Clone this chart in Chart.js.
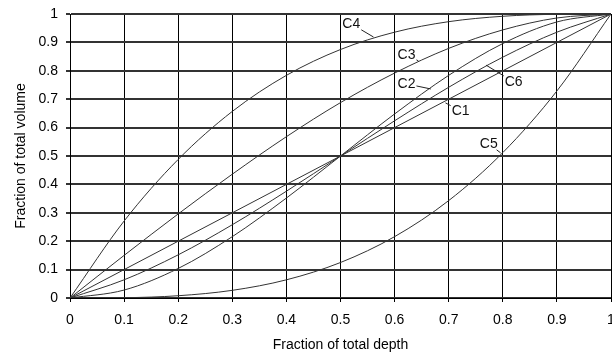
<!DOCTYPE html>
<html>
<head>
<meta charset="utf-8">
<script src="https://cdn.jsdelivr.net/npm/chart.js@4/dist/chart.umd.min.js"></script>
<style>
  html, body { margin: 0; padding: 0; background: #fff; }
  #wrap { width: 612px; height: 357px; }
</style>
</head>
<body>
<div id="wrap"><canvas id="curves"></canvas></div>
<script>
// fraction of total depth
const depth = [0, 0.1, 0.2, 0.3, 0.4, 0.5, 0.6, 0.7, 0.8, 0.9, 1];

// fraction of total volume, one list per curve
const c1 = [0, 0.1, 0.2, 0.3, 0.4, 0.5, 0.6, 0.7, 0.8, 0.9, 1];
const c2 = [0, 0.028, 0.104, 0.216, 0.352, 0.5, 0.648, 0.784, 0.896, 0.972, 1];
const c3 = [0, 0.15, 0.296, 0.436, 0.568, 0.688, 0.792, 0.879, 0.944, 0.986, 1];
const c4 = [0, 0.271, 0.488, 0.657, 0.784, 0.875, 0.936, 0.973, 0.992, 0.999, 1];
const c5 = [0, 0.001, 0.008, 0.027, 0.064, 0.125, 0.216, 0.343, 0.512, 0.729, 1];
const c6 = [0, 0.064, 0.152, 0.258, 0.376, 0.5, 0.624, 0.742, 0.848, 0.936, 1];

const curveNames = ["C1", "C2", "C3", "C4", "C5", "C6"];
const curveValues = [c1, c2, c3, c4, c5, c6];

// callout labels: where the text sits and where its leader touches the curve
const labelX = [0.722, 0.622, 0.622, 0.520, 0.774, 0.820];
const labelY = [0.659, 0.754, 0.856, 0.965, 0.543, 0.761];
const tipX = [0.694, 0.667, 0.644, 0.561, 0.796, 0.769];
const tipY = [0.687, 0.736, 0.835, 0.919, 0.511, 0.820];

const fontFamily = "'Liberation Sans', Arial, sans-serif";
const tickFont = { family: fontFamily, size: 14 };
const titleFont = { family: fontFamily, size: 14 };

// draws the C1..C6 callouts with short leader lines
const calloutPlugin = {
  id: "callouts",
  afterDatasetsDraw(chart) {
    const ctx = chart.ctx;
    const xs = chart.scales.x, ys = chart.scales.y;
    ctx.save();
    ctx.font = "14px " + fontFamily;
    ctx.textAlign = "center";
    ctx.textBaseline = "middle";
    ctx.strokeStyle = "#222";
    ctx.fillStyle = "#111";
    ctx.lineWidth = 1;
    curveNames.forEach((name, i) => {
      let tx = xs.getPixelForValue(labelX[i]);
      let ty = ys.getPixelForValue(labelY[i]);
      let px = xs.getPixelForValue(tipX[i]);
      let py = ys.getPixelForValue(tipY[i]);
      let hw = ctx.measureText(name).width / 2 + 1;
      let hh = 6;
      let dx = px - tx, dy = py - ty;
      let k = Math.min(hw / Math.abs(dx || 1e-6), hh / Math.abs(dy || 1e-6));
      ctx.beginPath();
      ctx.moveTo(tx + dx * k, ty + dy * k);
      ctx.lineTo(px, py);
      ctx.stroke();
      ctx.fillText(name, tx, ty);
    });
    ctx.restore();
  }
};

new Chart(document.getElementById("curves"), {
  type: "line",
  data: {
    labels: depth,
    datasets: curveNames.map((name, i) => ({
      label: name,
      data: depth.map((d, j) => ({ x: d, y: curveValues[i][j] })),
      borderColor: "#333",
      borderWidth: 1,
      pointRadius: 0,
      fill: false,
      cubicInterpolationMode: "monotone"
    }))
  },
  options: {
    responsive: true,
    maintainAspectRatio: false,
    animation: false,
    layout: { padding: { top: 14, right: 1, left: 0, bottom: 0 } },
    plugins: {
      legend: { display: false },
      tooltip: { enabled: false }
    },
    scales: {
      x: {
        type: "linear",
        min: 0,
        max: 1,
        afterFit: (s) => { s.height = 59; s.paddingRight = 0; s.paddingLeft = 0; },
        ticks: {
          stepSize: 0.1,
          color: "#000",
          font: tickFont,
          padding: 10,
          maxRotation: 0,
          callback: (v) => String(+v.toFixed(1))
        },
        grid: { color: "#000", lineWidth: 1, tickLength: 4 },
        border: { color: "#000", width: 1 },
        title: {
          display: true,
          text: "Fraction of total depth",
          color: "#000",
          font: titleFont,
          padding: { top: 0, bottom: 3 }
        }
      },
      y: {
        min: 0,
        max: 1,
        afterFit: (s) => { s.width = 70; s.paddingTop = 0; s.paddingBottom = 0; },
        ticks: {
          stepSize: 0.1,
          color: "#000",
          font: tickFont,
          padding: 8,
          callback: (v) => String(+v.toFixed(1))
        },
        grid: { color: "#333", lineWidth: 2, tickLength: 4 },
        border: { color: "#000", width: 1 },
        title: {
          display: true,
          text: "Fraction of total volume",
          color: "#000",
          font: titleFont,
          padding: { top: 13, bottom: 0 }
        }
      }
    }
  },
  plugins: [calloutPlugin]
});
</script>
</body>
</html>
